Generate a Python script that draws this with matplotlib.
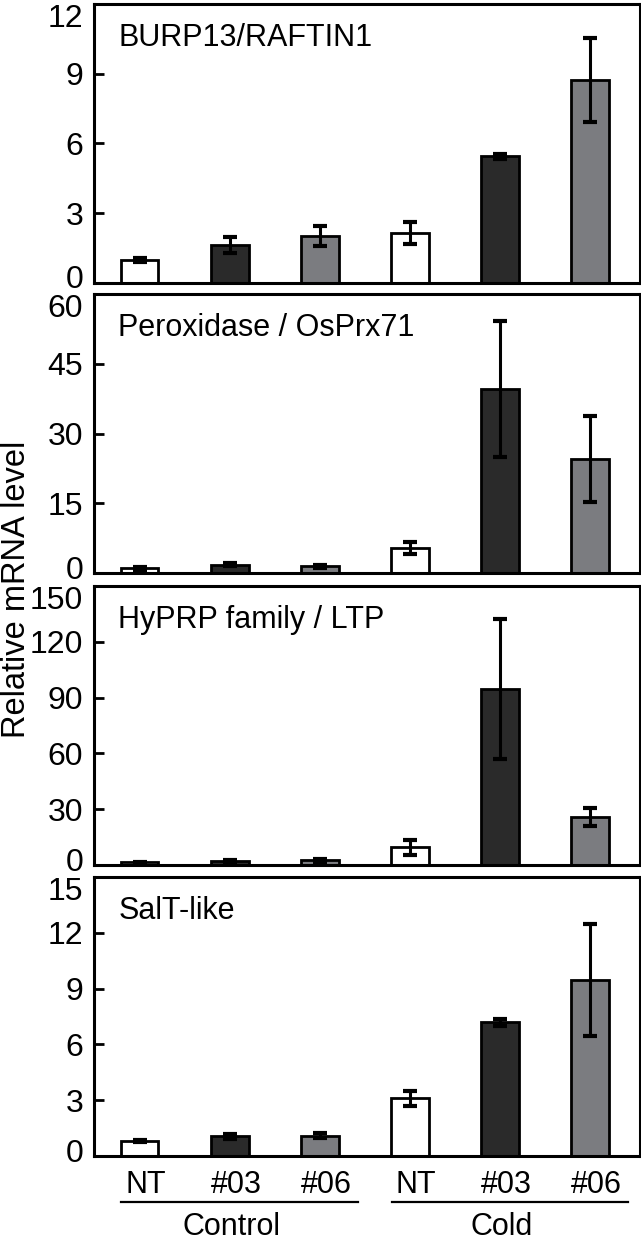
import numpy as np
import matplotlib
matplotlib.use('Agg')
import matplotlib.pyplot as plt
import matplotlib.transforms as mtransforms

plt.rcParams['font.family'] = ['Liberation Sans', 'DejaVu Sans']

lines = ['NT', '#03', '#06', 'NT', '#03', '#06']
groups = ['Control', 'Cold']
colors = ['white', '#2a2a2a', '#7b7c80', 'white', '#2a2a2a', '#7b7c80']

genes = ['BURP13/RAFTIN1', 'Peroxidase / OsPrx71', 'HyPRP family / LTP', 'SalT-like']
ymax = [12, 60, 150, 15]
ystep = [3, 15, 30, 3]

burp_mean = [1.0, 1.63, 2.0, 2.16, 5.45, 8.73]
burp_err = [0.08, 0.36, 0.43, 0.48, 0.1, 1.8]
prx_mean = [1.0, 1.8, 1.43, 5.36, 39.6, 24.5]
prx_err = [0.3, 0.3, 0.3, 1.2, 14.6, 9.2]
hyprp_mean = [1.4, 2.3, 2.7, 9.5, 94.6, 25.9]
hyprp_err = [0.5, 0.6, 0.8, 3.9, 37.5, 4.7]
salt_mean = [0.8, 1.05, 1.1, 3.1, 7.18, 9.45]
salt_err = [0.05, 0.15, 0.12, 0.42, 0.18, 3.0]

means = [burp_mean, prx_mean, hyprp_mean, salt_mean]
errs = [burp_err, prx_err, hyprp_err, salt_err]

fig = plt.figure(figsize=(6.41, 12.47), dpi=100)
x = np.arange(len(lines))
bottoms = [0.7731, 0.5405, 0.3063, 0.0730]
axes = []
for i in range(4):
    ax = fig.add_axes([0.1473, bottoms[i], 0.851, 0.2237])
    ax.bar(x, means[i], width=0.42, color=colors, edgecolor='black', linewidth=2.0, zorder=2)
    ax.errorbar(x, means[i], yerr=errs[i], fmt='none', ecolor='black',
                elinewidth=2.2, capsize=5, capthick=3, zorder=3)
    ax.set_xlim(-0.5, 5.55)
    ax.set_ylim(0, ymax[i])
    ax.set_yticks(np.arange(0, ymax[i] + 0.1, ystep[i]))
    ax.tick_params(axis='y', direction='in', length=7, width=2, pad=8)
    for lab in ax.get_yticklabels():
        lab.set_family(['Liberation Sans Narrow', 'Liberation Sans'])
        lab.set_fontsize(23)
    # top label sits just under the frame, zero label a bit up
    ticks = ax.yaxis.get_major_ticks()
    ticks[-1].label1.set_va('top')
    ticks[0].label1.set_va('baseline')
    ticks[0].label1.set_transform(ticks[0].label1.get_transform() +
                                  mtransforms.ScaledTranslation(0, -4 / 72, fig.dpi_scale_trans))
    ax.tick_params(axis='x', length=0, labelbottom=False)
    for s in ax.spines.values():
        s.set_linewidth(2.2)
    ax.text(0.044, 0.85, genes[i], transform=ax.transAxes, fontsize=22, va='baseline', ha='left')
    axes.append(ax)

ax = axes[-1]
tr = mtransforms.blended_transform_factory(ax.transData, ax.transAxes)
for xi, lab in zip(x, lines):
    ax.text(xi + 0.07, -0.1326, lab, transform=tr, ha='center', va='baseline', fontsize=22)
for g, name in enumerate(groups):
    idx = x[g * 3:(g + 1) * 3]
    ax.plot([idx[0] - 0.2, idx[-1] + 0.42], [-0.1649, -0.1649], transform=tr,
            color='black', linewidth=1.6, clip_on=False)
    ax.text(idx.mean() + 0.02, -0.2832, name, transform=tr, ha='center', va='baseline', fontsize=22)

fig.text(0.026, 1 - 589 / 1247, 'Relative mRNA level', rotation=90, ha='center', va='center', fontsize=23.5)

fig.savefig('out.png', dpi=100)
